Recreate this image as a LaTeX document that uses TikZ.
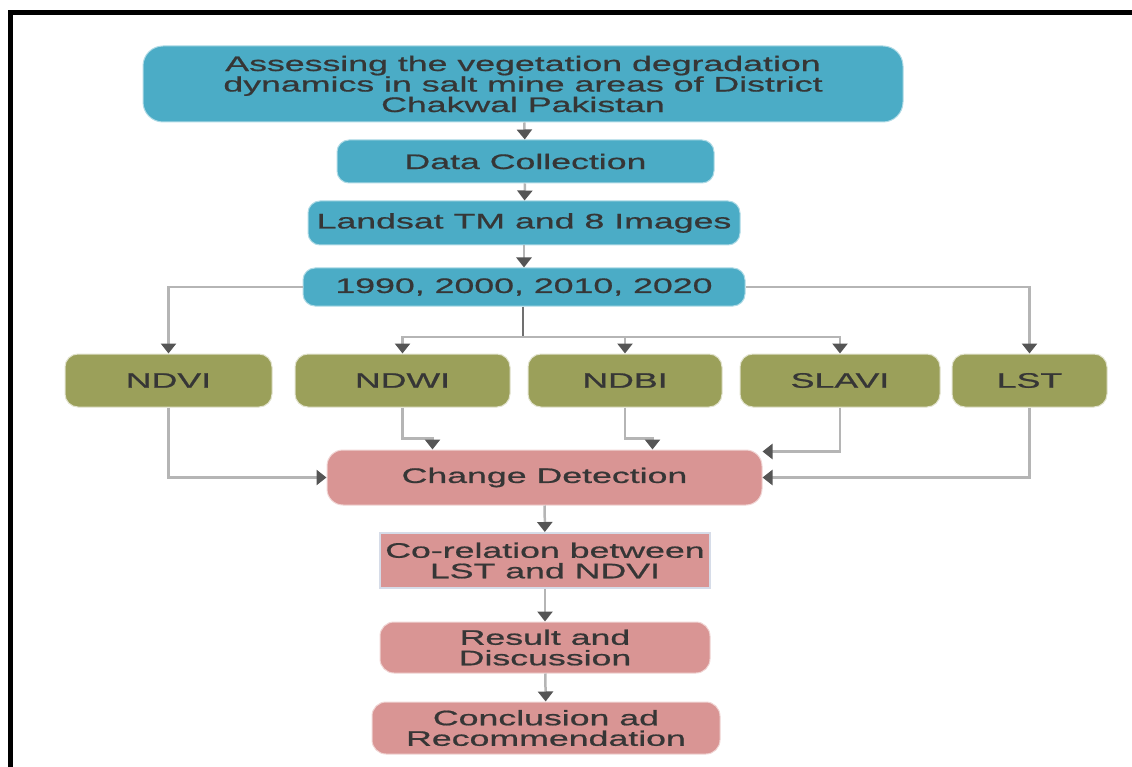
\documentclass[tikz,border=0pt]{standalone}
\usepackage{fontspec}
\setmainfont{Liberation Sans}[FakeStretch=1.7,FakeBold=0.8]
\usetikzlibrary{arrows.meta}
\definecolor{headblue}{HTML}{4BACC6}
\definecolor{idxgreen}{HTML}{9BA05A}
\definecolor{stagepink}{HTML}{D99594}
\definecolor{linkgray}{HTML}{B5B5B5}
\definecolor{trunkgray}{HTML}{707070}
\definecolor{tipgray}{HTML}{555555}
\definecolor{txtgray}{HTML}{363636}
\definecolor{edgeblue}{HTML}{D6DCE8}
\tikzset{every node/.style={font=\fontsize{21}{20.5}\selectfont,text=txtgray,align=center,inner sep=0pt}}

\begin{document}
\begin{tikzpicture}[x=1pt,y=-1pt,
            bluebox/.style={fill=headblue,draw=headblue!45,line width=1pt,rounded corners=12pt},
            greenbox/.style={fill=idxgreen,draw=idxgreen!30,line width=1pt,rounded corners=13pt,minimum width=#1,minimum height=53},
            pinkbox/.style={fill=stagepink,draw=stagepink!40,line width=1pt,rounded corners=14pt},
            link/.style={draw=linkgray,line width=2.5pt,-{Triangle[width=15pt,length=10pt,color=tipgray]}}
            ]
            \useasboundingbox (0,0) rectangle (1132,767);
            \draw[line width=5pt] (10,767) -- (10,13) -- (1132,13);

            \node[bluebox,rounded corners=20pt,minimum width=760,minimum height=76] (aim) at (523,84)
                {Assessing the vegetation degradation\\dynamics in salt mine areas of District\\Chakwal Pakistan};
            \node[bluebox,minimum width=377,minimum height=43] (data) at (525.5,161.5) {Data Collection};
            \node[bluebox,minimum width=432,minimum height=44] (landsat) at (524,223) {Landsat TM and 8 Images};
            \node[bluebox,minimum width=442,minimum height=38] (years) at (524,287) {1990, 2000, 2010, 2020};

            \node[greenbox=207] (ndvi) at (168.5,380.5) {NDVI};
            \node[greenbox=215] (ndwi) at (402.5,380.5) {NDWI};
            \node[greenbox=194] (ndbi) at (625,380.5) {NDBI};
            \node[greenbox=200] (slavi) at (840,380.5) {SLAVI};
            \node[greenbox=155] (lst) at (1029.5,380.5) {LST};

            \node[pinkbox,rounded corners=16pt,minimum width=435,minimum height=55] (change) at (544.5,477.5) {Change Detection};
            \node[fill=stagepink,draw=edgeblue,line width=2pt,minimum width=330,minimum height=55] (corr) at (545,560.5)
                {Co-relation between\\LST and NDVI};
            \node[pinkbox,minimum width=330,minimum height=51] (result) at (545,647.5) {Result and\\Discussion};
            \node[pinkbox,minimum width=348,minimum height=52] (concl) at (546,728) {Conclusion ad\\Recommendation};

            \draw[link] (aim) -- (data);
            \draw[link] (data) -- (landsat);
            \draw[link] (landsat) -- (years);
            \draw[link] (years.west) -| (ndvi);
            \draw[link] (years.east) -| (lst);
            \coordinate (split) at (523,337);
            \draw[draw=trunkgray,line width=2.5pt] (years.south -| split) -- (split);
            \draw[link] (split) -| (ndwi);
            \draw[link] (split) -| (ndbi);
            \draw[link] (split) -| (slavi);

            \draw[link] (ndvi) |- (change);
            \draw[link] (ndwi.south) -- ++(0,31) -| ([xshift=-112pt]change.north);
            \draw[link] (ndbi.south) -- ++(0,31) -| ([xshift=108pt]change.north);
            \draw[link] (slavi.south) |- ([yshift=-2pt]change.north east);
            \draw[link] (lst) |- (change);

            \draw[link] (change) -- (corr);
            \draw[link] (corr) -- (result);
            \draw[link] (result) -- (concl);
        \end{tikzpicture}
\end{document}
